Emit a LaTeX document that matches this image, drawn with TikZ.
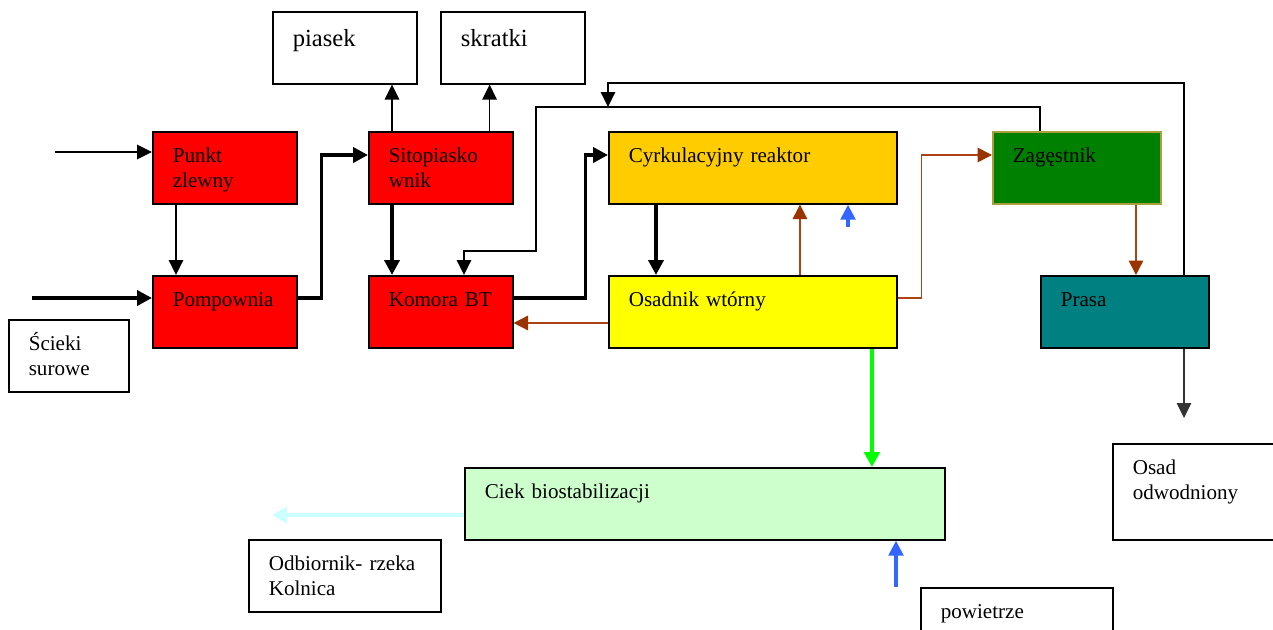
\documentclass[tikz,border=0pt]{standalone}
\usepackage{fontspec}
\setmainfont{Liberation Serif}
\usetikzlibrary{arrows.meta}

\definecolor{boxred}{RGB}{255,0,0}
\definecolor{reaktor}{RGB}{255,204,0}
\definecolor{osadfill}{RGB}{255,255,0}
\definecolor{zagfill}{RGB}{0,128,0}
\definecolor{zagline}{RGB}{170,160,60}
\definecolor{prasafill}{RGB}{0,128,128}
\definecolor{ciekfill}{RGB}{204,255,204}
\definecolor{brownline}{RGB}{170,68,20}
\definecolor{browntip}{RGB}{153,51,0}
\definecolor{greenline}{RGB}{0,255,0}
\definecolor{cyanline}{RGB}{204,255,255}
\definecolor{blueline}{RGB}{51,102,255}
\definecolor{grayline}{RGB}{51,51,51}

\begin{document}
\begin{tikzpicture}[x=0.02cm, y=-0.02cm,
  box/.style={draw, line width=0.9pt, anchor=north west, inner xsep=0.4cm, inner ysep=0pt,
    align=left, text height=0.62cm, text depth=0.82cm, font=\fontsize{12}{14.2}\selectfont},
  outbox/.style={box, text height=0.7cm, text depth=0.74cm, font=\fontsize{14}{16}\selectfont},
  ar/.style={-{Triangle[length=0.3cm,width=0.29cm]}, line width=0.9pt},
  thickar/.style={-{Triangle[length=0.3cm,width=0.3cm]}, line width=2.2pt},
  brownar/.style={-{Triangle[length=0.29cm,width=0.29cm,color=browntip]}, draw=brownline, line width=0.9pt},
  bluear/.style={-{Triangle[length=0.3cm,width=0.29cm]}, draw=blueline, line width=2pt},
  greenar/.style={-{Triangle[length=0.3cm,width=0.31cm]}, draw=greenline, line width=2pt},
  cyanar/.style={-{Triangle[length=0.3cm,width=0.32cm]}, draw=cyanline, line width=2.6pt},
  grayar/.style={-{Triangle[length=0.3cm,width=0.29cm]}, draw=grayline, line width=0.9pt}]
\useasboundingbox (0,0) rectangle (1273,629);

% mechanical stage
\node[box, fill=boxred, text width=2.08cm] (punkt) at (152,131) {Punkt\\zlewny};
\node[box, fill=boxred, text width=2.08cm] (pomp) at (152,275) {Pompownia};
\node[box, text width=1.6cm] (scieki) at (8,319) {Ścieki\\surowe};
\node[box, fill=boxred, text width=2.08cm] (sito) at (368,131) {Sitopiasko\\wnik};
\node[box, fill=boxred, text width=2.08cm] (komora) at (368,275) {Komora BT};
\node[outbox, text width=2.08cm] (piasek) at (272,11) {piasek};
\node[outbox, text width=2.08cm] (skratki) at (440,11) {skratki};

% biological stage and sludge
\node[box, fill=reaktor, text width=4.96cm] (cyrk) at (608,131) {Cyrkulacyjny reaktor};
\node[box, fill=osadfill, text width=4.96cm] (osad) at (608,275) {Osadnik wtórny};
\node[box, fill=zagfill, draw=zagline, text width=2.56cm] (zag) at (992,131) {Zagęstnik};
\node[box, fill=prasafill, text width=2.56cm] (prasa) at (1040,275) {Prasa};
\node[box, fill=ciekfill, text width=8.8cm] (ciek) at (464,467) {Ciek biostabilizacji};
\node[box, text width=3.04cm] (odb) at (248,539) {Odbiornik- rzeka\\Kolnica};
\node[box, text width=2.56cm, text depth=1.3cm] (osadodw) at (1112,443) {Osad\\odwodniony};
\node[box, text width=3.04cm] (powietrze) at (920,587) {powietrze};

% free ends and bends
\coordinate (in1) at (55,152);
\coordinate (in2) at (32,298);
\coordinate (blue1) at (848,227);
\coordinate (loopA) at (536,107);
\coordinate (loopB) at (464,251);
\coordinate (topL) at (608,83);
\coordinate (join) at (608,107);
\coordinate (odwEnd) at (1184,418);
\coordinate (rzekaEnd) at (272,515);
\coordinate (air) at (896,587);

% sewage line
\draw[ar] (in1) -- (punkt.west |- in1);
\draw[thickar] (in2) -- (pomp.west |- in2);
\draw[ar] ([xshift=0.48cm]punkt.south west) -- ([xshift=0.48cm]pomp.north west);
\draw[thickar] ([yshift=-0.46cm]pomp.north east) -- ++(24,0) |- ([yshift=-0.48cm]sito.north west);
\draw[ar] ([xshift=0.48cm]sito.north west) -- ([xshift=0.48cm]sito.north west |- piasek.south);
\draw[ar] ([xshift=-0.48cm]sito.north east) -- ([xshift=-0.48cm]sito.north east |- skratki.south);
\draw[thickar] ([xshift=0.48cm]sito.south west) -- ([xshift=0.48cm]komora.north west);
\draw[thickar] ([yshift=-0.46cm]komora.north east) -- ++(72,0) |- ([yshift=-0.48cm]cyrk.north west);
\draw[thickar] ([xshift=0.96cm]cyrk.south west) -- ([xshift=0.96cm]osad.north west);

% sludge lines
\draw[brownar] ([xshift=3.84cm]osad.north west) -- ([xshift=3.84cm]cyrk.south west);
\draw[bluear] (blue1) -- (blue1 |- cyrk.south);
\draw[brownar] ([yshift=-0.96cm]osad.north west) -- ([yshift=-0.96cm]osad.north west -| komora.east);
\draw[brownar] ([yshift=-0.46cm]osad.north east) -- ++(24,0) |- ([yshift=-0.48cm]zag.north west);
\draw[brownar] ([xshift=2.88cm]zag.south west) -- ([xshift=2.88cm]zag.south west |- prasa.north);
\draw[ar] ([xshift=0.96cm]zag.north west) |- (loopA) |- (loopB) -- (loopB |- komora.north);
\draw[ar] (odwEnd |- prasa.north) |- (topL) -- (join);
\draw[grayar] (odwEnd |- prasa.south) -- (odwEnd);

% outflow
\draw[greenar] ([xshift=5.28cm]osad.south west) -- ([xshift=5.28cm]osad.south west |- ciek.north);
\draw[cyanar] (rzekaEnd -| ciek.west) -- (rzekaEnd);
\draw[bluear] (air) -- (air |- ciek.south);

\end{tikzpicture}
\end{document}
